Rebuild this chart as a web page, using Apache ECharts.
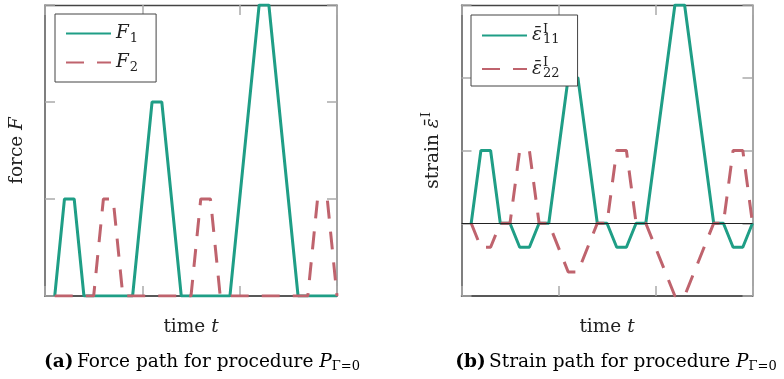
<!DOCTYPE html>
<html><head><meta charset="utf-8">
<script src="https://cdn.jsdelivr.net/npm/echarts@6/dist/echarts.min.js"></script>
<style>html,body{margin:0;padding:0;background:#fff}#c{width:784px;height:379px}</style>
</head><body><div id="c"></div>
<script>
// Load steps: time instants and force levels of the two load components
const timeF1 = [1, 2, 3, 4, 9, 11, 12, 14, 19, 22, 23, 26, 30];
const forceF1 = [0, 1, 1, 0, 0, 2, 2, 0, 0, 3, 3, 0, 0];
const timeF2 = [1, 5, 6, 7, 8, 15, 16, 17, 18, 27, 28, 29, 30];
const forceF2 = [0, 0, 1, 1, 0, 0, 1, 1, 0, 0, 1, 1, 0];
// Resulting inelastic strain components
const timeStrain = [1, 2, 3, 4, 5, 6, 7, 8, 9, 11, 12, 14, 15, 16, 17, 18, 19, 22, 23, 26, 27, 28, 29, 30];
const strain11 = [0, 1, 1, 0, 0, -0.33, -0.33, 0, 0, 2, 2, 0, 0, -0.33, -0.33, 0, 0, 3, 3, 0, 0, -0.33, -0.33, 0];
const strain22 = [0, -0.33, -0.33, 0, 0, 1, 1, 0, 0, -0.67, -0.67, 0, 0, 1, 1, 0, 0, -1, -1, 0, 0, 1, 1, 0];
// Axis ranges / tick spacing
const timeRange = [0, 30], timeStep = 10;
const forceRange = [0, 3], forceStep = 1;
const strainRange = [-1, 3], strainStep = 1;

const GREEN = '#1f9e86';
const RED = '#bf636d';
const FONT = 'DejaVu Serif';

const pairs = (xs, ys) => xs.map((x, i) => [x, ys[i]]);

const rich = {
  r: { fontFamily: FONT, fontSize: 18.5, color: '#222' },
  b: { fontFamily: FONT, fontSize: 18.5, fontWeight: 'bold', color: '#222' },
  i: { fontFamily: FONT, fontSize: 18.5, fontStyle: 'italic', color: '#222' },
  sub: { fontFamily: FONT, fontSize: 13, color: '#222', padding: [10, 0, 0, 1] },
  subr: { fontFamily: FONT, fontSize: 13, color: '#222', padding: [9, 0, 0, 0] },
  sup: { fontFamily: FONT, fontSize: 13, color: '#222', padding: [0, 0, 12, 1], width: 0.1 },
  supw: { fontFamily: FONT, fontSize: 13, color: '#222', padding: [0, 0, 12, 1] }
};

const tick = { show: true, inside: true, length: 10, lineStyle: { color: '#aaa', width: 1.5 } };
const hidden = { axisLabel: { show: false }, splitLine: { show: false } };

function xAxes(g) {
  return [
    Object.assign({ type: 'value', gridIndex: g, min: timeRange[0], max: timeRange[1], interval: timeStep, position: 'bottom',
      axisLine: { show: true, onZero: false, lineStyle: { color: '#222', width: 1.5 } }, axisTick: tick,
      name: '{r|time }{i|t}', nameLocation: 'middle', nameGap: 22, nameTextStyle: { rich } }, hidden),
    Object.assign({ type: 'value', gridIndex: g, min: timeRange[0], max: timeRange[1], interval: timeStep, position: 'top',
      axisLine: { show: true, onZero: false, lineStyle: { color: '#444', width: 1.3 } }, axisTick: tick }, hidden)
  ];
}
function yAxes(g, range, step, name, gap) {
  return [
    Object.assign({ type: 'value', gridIndex: g, min: range[0], max: range[1], interval: step, position: 'left',
      axisLine: { show: true, onZero: false, lineStyle: { color: '#555', width: 1.5 } }, axisTick: tick,
      name, nameLocation: 'middle', nameGap: gap, nameRotate: 90, nameTextStyle: { rich } }, hidden),
    Object.assign({ type: 'value', gridIndex: g, min: range[0], max: range[1], interval: step, position: 'right',
      axisLine: { show: true, onZero: false, lineStyle: { color: '#888', width: 1.5 } }, axisTick: tick }, hidden)
  ];
}

const legendBase = {
  orient: 'vertical', itemWidth: 45, itemHeight: 14, itemGap: 8,
  borderColor: '#444', borderWidth: 1, backgroundColor: '#fff', borderRadius: 0,
  itemStyle: { color: 'rgba(0,0,0,0)', borderWidth: 0 },
  textStyle: { rich }
};

const option = {
  animation: false,
  grid: [
    { left: 45, top: 5, width: 292, height: 291 },
    { left: 461.5, top: 5, width: 291, height: 291 }
  ],
  xAxis: [...xAxes(0), ...xAxes(1)],
  yAxis: [...yAxes(0, forceRange, forceStep, '{r|force }{i|F}', 18),
          ...yAxes(1, strainRange, strainStep, '{r|strain }{i|ε̄}{supw|I}', 16)],
  legend: [
    Object.assign({}, legendBase, { left: 55, top: 14, padding: [10, 18, 8, 10], data: ['F1', 'F2'],
      formatter: n => n === 'F1' ? '{i|F}{sub|1}' : '{i|F}{sub|2}' }),
    Object.assign({}, legendBase, { left: 471, top: 15, padding: [8, 18, 6, 10], itemGap: 10, data: ['e11', 'e22'],
      formatter: n => n === 'e11' ? '{i|ε̄}{sup|I}{subr|11}' : '{i|ε̄}{sup|I}{subr|22}' })
  ],
  series: [
    { name: 'F1', type: 'line', xAxisIndex: 0, yAxisIndex: 0, symbol: 'none', color: GREEN,
      lineStyle: { color: GREEN, width: 3 }, data: pairs(timeF1, forceF1) },
    { name: 'F2', type: 'line', xAxisIndex: 0, yAxisIndex: 0, symbol: 'none', color: RED,
      lineStyle: { color: RED, width: 3, type: [18, 13] }, data: pairs(timeF2, forceF2) },
    { name: 'e11', type: 'line', xAxisIndex: 2, yAxisIndex: 2, symbol: 'none', color: GREEN,
      lineStyle: { color: GREEN, width: 3 }, data: pairs(timeStrain, strain11),
      markLine: { silent: true, symbol: 'none', label: { show: false }, lineStyle: { color: '#222', width: 1.2, type: 'solid' }, data: [{ yAxis: 0 }] } },
    { name: 'e22', type: 'line', xAxisIndex: 2, yAxisIndex: 2, symbol: 'none', color: RED,
      lineStyle: { color: RED, width: 3, type: [18, 13] }, data: pairs(timeStrain, strain22) }
  ],
  graphic: [
    { type: 'text', x: 202, y: 362, style: { text: '{b|(a)} {r|Force path for procedure }{i|P}{subr|Γ=0}', align: 'center', verticalAlign: 'middle', rich } },
    { type: 'text', x: 616, y: 362, style: { text: '{b|(b)} {r|Strain path for procedure }{i|P}{subr|Γ=0}', align: 'center', verticalAlign: 'middle', rich } }
  ]
};

echarts.init(document.getElementById('c'), null, { renderer: 'canvas' }).setOption(option);
</script>
</body></html>
